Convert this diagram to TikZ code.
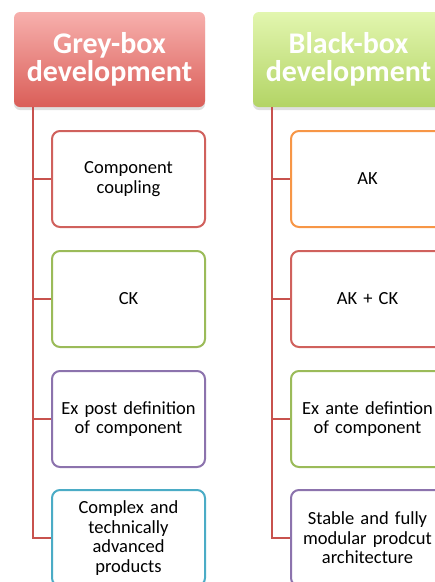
\documentclass[tikz,border=0pt]{standalone}
\usepackage{fontspec}
\setmainfont{Carlito}
\usetikzlibrary{shadows}
\definecolor{linkred}{HTML}{C8524E}
\definecolor{bred}{HTML}{D0615D}
\definecolor{bgreen}{HTML}{9BBB59}
\definecolor{bpurple}{HTML}{8C73AD}
\definecolor{bcyan}{HTML}{4BACC6}
\definecolor{borange}{HTML}{F79646}
\definecolor{hredtop}{HTML}{F7B0AD}
\definecolor{hredbot}{HTML}{DA5E58}
\definecolor{hgreentop}{HTML}{E2F6AF}
\definecolor{hgreenbot}{HTML}{B3D465}
\tikzset{
  header/.style={rounded corners=6pt, minimum width=191pt, minimum height=95pt,
    text=white, font=\fontsize{30}{28.5}\selectfont\bfseries, align=center,
    drop shadow={opacity=0.25, shadow xshift=0pt, shadow yshift=-3pt}},
  item/.style={draw=#1, line width=2pt, rounded corners=8pt, fill=white,
    minimum width=153pt, minimum height=96pt, text width=145pt, align=center,
    font=\fontsize{18.5}{19.5}\selectfont},
  conn/.style={draw=linkred, line width=2pt}
}
\begin{document}
\begin{tikzpicture}[x=1pt,y=1pt]
\useasboundingbox (0,0) rectangle (435,-582);
\clip (0,0) rectangle (435,-582);
% column headers
\node[header, top color=hredtop, bottom color=hredbot] (hL) at (109.5,-59.5) {Grey-box\\development};
\node[header, top color=hgreentop, bottom color=hgreenbot] (hR) at (348.5,-59.5) {Black-box\\development};
% left column items
\node[item=bred] (L1) at (128.5,-179) {Component\\coupling};
\node[item=bgreen] (L2) at (128.5,-299) {CK};
\node[item=bpurple] (L3) at (128.5,-419) {Ex post definition\\of component};
\node[item=bcyan] (L4) at (128.5,-538) {Complex and\\technically\\advanced\\products};
% right column items
\node[item=borange] (R1) at (367.5,-179) {AK};
\node[item=bred] (R2) at (367.5,-299) {AK + CK};
\node[item=bgreen] (R3) at (367.5,-419) {Ex ante defintion\\of component};
\node[item=bpurple] (R4) at (367.5,-538) {Stable and fully\\modular prodcut\\architecture};
% tree connectors
\coordinate (tL) at (33,-107);
\coordinate (tR) at (272,-107);
\foreach \n in {L1,L2,L3,L4} \draw[conn] (tL) |- (\n.west);
\foreach \n in {R1,R2,R3,R4} \draw[conn] (tR) |- (\n.west);
\end{tikzpicture}
\end{document}
